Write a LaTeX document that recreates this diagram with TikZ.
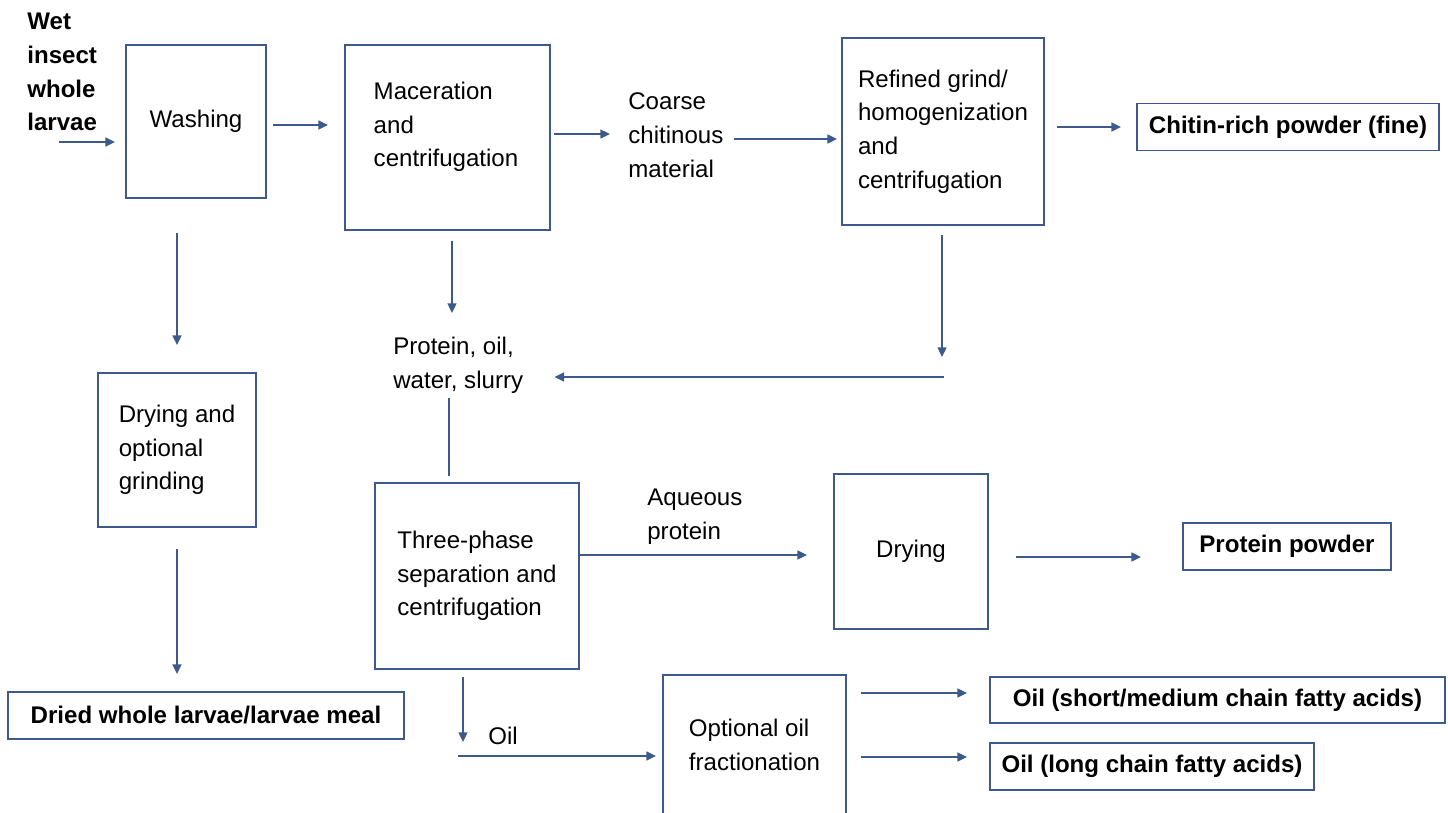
\documentclass[tikz,border=0pt]{standalone}
\usepackage{fontspec}
\setmainfont{Liberation Sans}
\usetikzlibrary{arrows.meta, positioning, calc}
\definecolor{flowblue}{RGB}{60,90,140}

\begin{document}
\begin{tikzpicture}[x=0.02cm, y=-0.02cm, >={Triangle[length=5.5pt,width=5pt]},
      font=\fontsize{13.7}{19.2}\selectfont,
      every node/.style={inner sep=0pt},
      box/.style={draw=flowblue, line width=1.1pt, align=left},
      product/.style={box, font=\fontsize{13.7}{19.2}\selectfont\bfseries, minimum height=0.94cm},
      txt/.style={align=left},
      flow/.style={->, draw=flowblue, line width=1.1pt}]
  \useasboundingbox (0,0) rectangle (1448,812);
  \clip (0,0) rectangle (1448,812);
  % process steps
  \node[txt, anchor=west, font=\fontsize{13.7}{19.2}\selectfont\bfseries] (feed) at (27,72) {Wet\\insect\\whole\\larvae};
  \node[box, minimum width=2.8cm, minimum height=3.06cm] (wash) at (196,121.5) {Washing};
  \node[box, minimum width=4.1cm, minimum height=3.7cm] (mac) at (447.5,137.5) {};
  \node[txt] (macT) at (446,127) {Maceration\\and\\centrifugation};
  \node[txt, anchor=west] (coarse) at (628,135) {Coarse\\chitinous\\material};
  \node[box, minimum width=4.04cm, minimum height=3.74cm] (refine) at (943,131.5) {Refined grind/\\homogenization\\and\\centrifugation};
  \node[product, minimum width=6.04cm] (chitin) at (1288,127) {Chitin-rich powder (fine)};
  \node[box, minimum width=3.16cm, minimum height=3.08cm] (dryW) at (177,450) {Drying and\\optional\\grinding};
  \node[product, minimum width=7.92cm] (meal) at (206,715.5) {Dried whole larvae/larvae meal};
  \node[txt, anchor=west] (slurry) at (393,365) {Protein, oil,\\water, slurry};
  \node[box, minimum width=4.08cm, minimum height=3.72cm] (sep) at (477,576) {Three-phase\\separation and\\centrifugation};
  \node[txt, anchor=west] (aq) at (647,517) {Aqueous\\protein};
  \node[box, minimum width=3.08cm, minimum height=3.1cm] (dryP) at (911,551.5) {Drying};
  \node[product, minimum width=4.16cm] (prot) at (1287,546.5) {Protein powder};
  \node[txt, anchor=west] (oil) at (488,736) {Oil};
  \node[box, minimum width=3.66cm, minimum height=2.8cm] (frac) at (754.5,745) {Optional oil\\fractionation};
  \node[product, minimum width=9.1cm, minimum height=0.92cm] (oilSM) at (1217.5,700) {Oil (short/medium chain fatty acids)};
  \node[product, minimum width=6.48cm] (oilL) at (1152,766.5) {Oil (long chain fatty acids)};
  % free ends
  \coordinate (in) at (59,142);
  \coordinate (macD) at (452,313);
  \coordinate (refD) at (942,357);
  \coordinate (ret) at (944,377);
  \coordinate (slD) at (449,476);
  \coordinate (sepD) at (463,742);
  \coordinate (oilS) at (458,756);
  % flows
  \draw[flow, shorten >=0.2cm] (in) -- (wash.west |- in);
  \draw[flow, shorten <=0.12cm, shorten >=0.32cm] (wash.east |- 0,125) -- (mac.west |- 0,125);
  \draw[flow, shorten <=0.06cm, shorten >=0.36cm] (mac.east |- 0,134) -- (coarse.west |- 0,134);
  \draw[flow, shorten <=0.2cm, shorten >=0.08cm] (coarse.east |- 0,139) -- (refine.west |- 0,139);
  \draw[flow, shorten <=0.24cm, shorten >=0.3cm] (refine.east |- 0,127) -- (chitin.west);
  \draw[flow, shorten <=0.68cm, shorten >=0.54cm] (wash.south -| dryW.north) -- (dryW.north);
  \draw[flow, shorten <=0.42cm, shorten >=0.34cm] (dryW.south) -- (meal.north -| dryW.south);
  \draw[flow, shorten <=0.2cm] (mac.south -| macD) -- (macD);
  \draw[flow, shorten <=0.18cm] (refine.south -| refD) -- (refD);
  \draw[flow, shorten >=0.62cm] (ret) -- (slurry.east |- ret);
  \draw[draw=flowblue, line width=1.1pt, shorten <=0.1cm] (slD |- slurry.south) -- (slD);
  \draw[flow, shorten >=0.52cm] (sep.east |- 0,555) -- (dryP.west |- 0,555);
  \draw[flow, shorten <=0.54cm, shorten >=0.82cm] (dryP.east |- 0,557) -- (prot.west |- 0,557);
  \draw[flow, shorten <=0.14cm] (sep.south -| sepD) -- (sepD);
  \draw[flow, shorten >=0.12cm] (oilS) -- (frac.west |- oilS);
  \draw[flow, shorten <=0.28cm, shorten >=0.44cm] (frac.east |- 0,693) -- (oilSM.west |- 0,693);
  \draw[flow, shorten <=0.28cm, shorten >=0.44cm] (frac.east |- 0,757) -- (oilL.west |- 0,757);
\end{tikzpicture}
\end{document}
